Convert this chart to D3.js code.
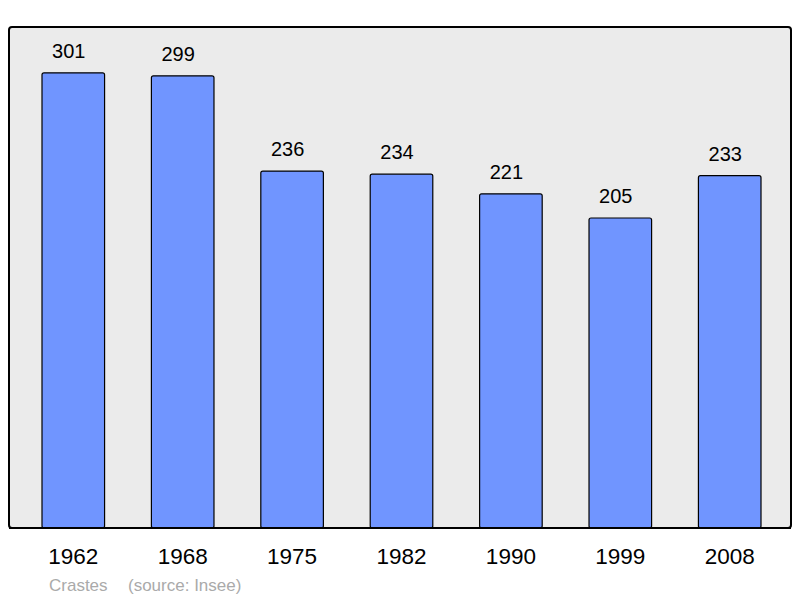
<!DOCTYPE html>
<html><head><meta charset="utf-8">
<script src="https://cdn.jsdelivr.net/npm/d3@7"></script>
<style>body{margin:0;background:#fff}svg{display:block}text{font-family:"Liberation Sans",Arial,sans-serif}</style>
</head><body>
<svg id="c" width="800" height="598"></svg>
<script>
const years = ["1962","1968","1975","1982","1990","1999","2008"];
const population = [301,299,236,234,221,205,233];
const place = "Crastes";
const source = "(source: Insee)";

const svg = d3.select("#c");
const x = d3.scaleBand().domain(years).range([42, 761]).paddingInner(0.428).paddingOuter(0);
const y = d3.scaleLinear().domain([0, 331.3]).range([528, 27]);

svg.append("rect").attr("x", 9).attr("y", 27).attr("width", 782).attr("height", 501)
  .attr("rx", 3).attr("fill", "#ebebeb").attr("stroke", "#000").attr("stroke-width", 2);

svg.selectAll("rect.bar").data(years).join("rect").attr("class","bar")
  .attr("x", d => x(d)).attr("width", x.bandwidth())
  .attr("y", (d,i) => y(population[i])).attr("height", (d,i) => y(0) - y(population[i]))
  .attr("rx", 2).attr("fill", "#7095ff").attr("stroke", "#000").attr("stroke-width", 1.2);

svg.selectAll("text.val").data(years).join("text").attr("class","val")
  .attr("x", d => x(d) + x.bandwidth()/2 - 4.5).attr("y", (d,i) => y(population[i]) - 14.7)
  .attr("text-anchor","middle").attr("font-size", 20).attr("fill","#000")
  .text((d,i) => population[i]);

svg.append("line").attr("x1", 9).attr("x2", 791).attr("y1", 528).attr("y2", 528)
  .attr("stroke","#000").attr("stroke-width",2);

const xAxis = d3.axisBottom(x).tickSize(0).tickPadding(0);
const ax = svg.append("g").attr("transform","translate(0,548)").call(xAxis);
ax.select(".domain").remove();
ax.selectAll("text").attr("font-size", 22.5).attr("fill","#000")
  .attr("font-family",'"Liberation Sans",Arial,sans-serif').attr("dy","0.71em");

svg.append("text").attr("x", 49).attr("y", 591).attr("font-size", 17).attr("fill","#aaa").text(place);
svg.append("text").attr("x", 128).attr("y", 591).attr("font-size", 17).attr("fill","#aaa").text(source);
</script>
</body></html>
